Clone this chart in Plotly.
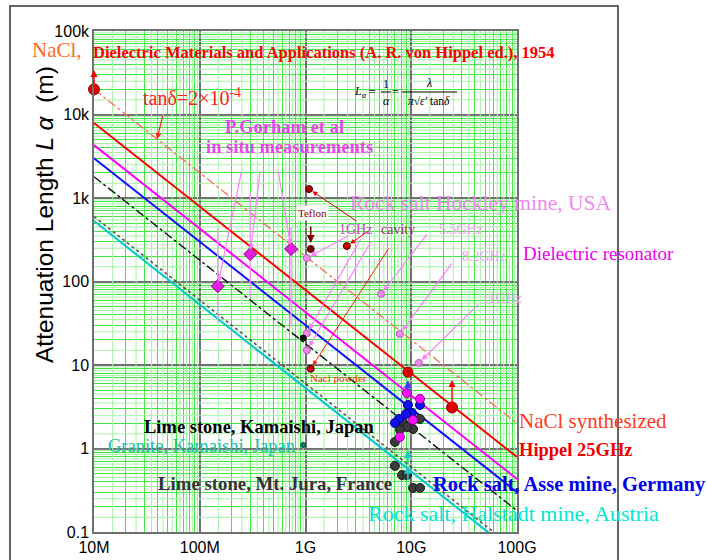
import math
import plotly.graph_objects as go

# ---- axes ----
freq_ticks = [1e7, 1e8, 1e9, 1e10, 1e11]
freq_labels = ["10M", "100M", "1G", "10G", "100G"]
len_ticks = [0.1, 1, 10, 100, 1e3, 1e4, 1e5]
len_labels = ["0.1", "1", "10", "100", "1k", "10k", "100k"]

# ---- attenuation lines L = lambda / (pi sqrt(eps') tan d): values at 10 MHz and 100 GHz ----
line_f = [1e7, 1e11]
hippel_line = [7900, 0.79]
tand_line = [20000, 2.0]
magenta_line = [4300, 0.43]
asse_line = [3000, 0.30]
lime_line = [1800, 0.18]
dotted_line = [600, 0.06]
halstadt_line = [530, 0.053]

# ---- measurements ----
nacl_hippel_f, nacl_hippel_L = [1e7], [20000]
nacl_synth_f, nacl_synth_L = [2.43e10], [3.1]
hippel25_f, hippel25_L = [9.3e9], [8.2]

gorham_f = [1.48e8, 3.0e8, 7.3e8]
gorham_L = [88, 213, 245]
gorham_hi = [437, 1150, 450]
gorham_lo = [32, 64, 28.5]

cavity_f = [1.08e9, 1.12e9, 2.46e9, 1.12e9]
cavity_L = [1280, 245, 266, 9.0]
cavity_col = ["#b00000", "#7a0000", "#d00000", "#d00000"]

hockley_f = [1.03e9, 5.18e9, 7.8e9, 1.18e10, 1.03e9, 1.03e9]
hockley_L = [191, 71, 23.5, 10.6, 24, 15]

lime_kamaishi_f, lime_kamaishi_L = [9.5e8], [21]
granite_f, granite_L = [9.5e8], [1.1]

asse_magenta_f = [9.1e9, 1.21e10, 1.04e10, 7.8e9]
asse_magenta_L = [4.62, 3.92, 2.19, 1.37]
asse_blue_f = [1.21e10, 9.3e9, 1.016e10, 8.9e9, 7.66e9, 7.0e9]
asse_blue_L = [3.32, 3.32, 2.66, 2.59, 2.26, 2.02]
lime_f = [8.36e9, 1.04e10, 9.12e9, 1.21e10, 7.83e9, 7.0e9, 7.0e9, 8.18e9, 9.12e9, 1.04e10, 1.21e10]
lime_L = [2.08, 1.71, 1.81, 2.26, 1.67, 1.20, 0.62, 0.48, 0.48, 0.337, 0.337]

# lower-limit arrows (tip values)
asse_limit_f, asse_limit_L = [9.3e9], [6.6]
halstadt_limit_f, halstadt_limit_L = [9.3e9, 9.3e9], [0.96, 0.62]

# ---- geometry helpers (plot area in pixels) ----
W, H = 707, 560
L_PX, R_PX, T_PX, B_PX = 94, 517, 31, 532


def paper(px, py):
    return (px - L_PX) / (R_PX - L_PX), (B_PX - py) / (B_PX - T_PX)


lg = math.log10
SERIF = "Liberation Serif, Times New Roman, serif"
SANS = "Liberation Sans, Arial, sans-serif"

fig = go.Figure()

# pale secondary grid between the minor lines
pale_x = [(m + 0.5) * 10 ** e for e in range(7, 11) for m in range(1, 10)]
pale_y = [(m + 0.5) * 10 ** e for e in range(-1, 5) for m in range(1, 10)]
gx, gy = [], []
for v in pale_x:
    gx += [v, v, None]
    gy += [0.1, 1e5, None]
for v in pale_y:
    gx += [1e7, 1e11, None]
    gy += [v, v, None]
fig.add_trace(go.Scatter(x=gx, y=gy, mode="lines", line=dict(color="#a8f0a8", width=1),
                         hoverinfo="skip", showlegend=False))


def add_line(vals, color, width, dash="solid"):
    fig.add_trace(go.Scatter(x=line_f, y=vals, mode="lines",
                             line=dict(color=color, width=width, dash=dash),
                             hoverinfo="skip", showlegend=False))


add_line(tand_line, "#ff6a5a", 1.3, "dashdot")
add_line(dotted_line, "#555555", 1.6, "dot")
add_line(halstadt_line, "#00c8d0", 2)
add_line(lime_line, "#111111", 1.4, "dashdot")
add_line(asse_line, "#1010ff", 2)
add_line(magenta_line, "#ff00ff", 2)
add_line(hippel_line, "#ff0000", 2)


def add_pts(x, y, color, size, line_color, symbol="circle", clip=True, err=None):
    fig.add_trace(go.Scatter(x=x, y=y, mode="markers", cliponaxis=clip,
                             marker=dict(color=color, size=size, symbol=symbol,
                                         line=dict(color=line_color, width=1)),
                             error_y=err, hoverinfo="skip", showlegend=False))


gor_err = dict(type="data", symmetric=False,
               array=[h - v for h, v in zip(gorham_hi, gorham_L)],
               arrayminus=[v - l for v, l in zip(gorham_L, gorham_lo)],
               color="#ff90ff", thickness=1.4, width=0)
add_pts(gorham_f, gorham_L, "#e020e0", 10, "#900090", "diamond", err=gor_err)
add_pts(hockley_f, hockley_L, "#ee88ee", 7, "#b060b0")
add_pts(lime_kamaishi_f, lime_kamaishi_L, "#111111", 6, "#000000")
add_pts(granite_f, granite_L, "#108070", 5, "#004040")
add_pts(lime_f, lime_L, "#3a3a3a", 9, "#1a1a1a")
add_pts(asse_blue_f, asse_blue_L, "#1010f0", 9, "#000080")
add_pts(asse_magenta_f, asse_magenta_L, "#ff10ff", 9, "#900090")
fig.add_trace(go.Scatter(x=cavity_f, y=cavity_L, mode="markers",
                         marker=dict(color=cavity_col, size=7, line=dict(color="#400000", width=1)),
                         hoverinfo="skip", showlegend=False))
add_pts(hippel25_f, hippel25_L, "#e00000", 10, "#900000")
add_pts(nacl_synth_f, nacl_synth_L, "#e00000", 11, "#900000")
add_pts(nacl_hippel_f, nacl_hippel_L, "#e00000", 11, "#900000", clip=False)

ann = []


def arrow(f, Lv, ax, ay, color, width=1.2, head=2, standoff=4, size=1.0):
    ann.append(dict(x=lg(f), y=lg(Lv), xref="x", yref="y", ax=ax, ay=ay,
                    text="", showarrow=True, arrowcolor=color, arrowwidth=width,
                    arrowhead=head, arrowsize=size, standoff=standoff))


# in situ (Gorham) pointers
arrow(gorham_f[0], gorham_L[0], 24, -116, "#ff80ff")
arrow(gorham_f[1], gorham_L[1], 10, -84, "#ff80ff")
arrow(gorham_f[2], gorham_L[2], -13, -79, "#ff80ff")
# cavity / resonator pointers
arrow(hockley_f[0], hockley_L[0], 43, -23, "#ff80ff")
arrow(hockley_f[4], hockley_L[4], 55, -96, "#ff80ff")
arrow(hockley_f[5], hockley_L[5], 65, -110, "#ff80ff")
arrow(hockley_f[1], hockley_L[1], 47, -61, "#ff80ff")
arrow(hockley_f[2], hockley_L[2], 53, -72, "#ff80ff")
arrow(hockley_f[3], hockley_L[3], 61, -60, "#ff80ff")
arrow(cavity_f[0], cavity_L[0], 49, 33, "#e00000", 1.0)
arrow(cavity_f[2], cavity_L[2], 23, -16, "#ff0000", 1.0)
arrow(cavity_f[1], cavity_L[1], 0, -24, "#800000", 1.6, standoff=6)
arrow(cavity_f[3], cavity_L[3], 79, -122, "#ff2000", 1.0)
# tan d pointer onto the dashed line
arrow(3.95e7, tand_line[0] * 1e7 / 3.95e7, 6, -25, "#ff2020", 1.2, standoff=0)
# lower limits
arrow(nacl_hippel_f[0], 34000, 0, 19, "#ff0000", 1.4, standoff=0)
arrow(nacl_synth_f[0], 6.6, 0, 27, "#ff0000", 1.4, standoff=0)
arrow(asse_limit_f[0], asse_limit_L[0], 0, 13, "#4040ff", 1.6, standoff=0)
for v in halstadt_limit_L:
    arrow(halstadt_limit_f[0], v, 0, 16, "#20c8c8", 1.6, standoff=0)


def label(text, px, py, color, size, bold=False, anchor="left", italic=False, bg=None):
    x, y = paper(px, py)
    t = f"<b>{text}</b>" if bold else text
    if italic:
        t = f"<i>{t}</i>"
    d = dict(x=x, y=y, xref="paper", yref="paper", text=t, showarrow=False,
             xanchor=anchor, yanchor="middle", font=dict(family=SERIF, size=size, color=color))
    if bg:
        d["bgcolor"] = bg
    ann.append(d)


label("NaCl,", 57, 50, "#ff6a1a", 21, anchor="center")
label("Dielectric Materials and Applications (A. R. von Hippel ed.), 1954", 91, 52, "#ff0000", 16.5, bold=True)
label("tanδ=2×10<sup>-4</sup>", 141, 97, "#ff2020", 20)
label("P.Gorham et al", 284, 127, "#ee44ee", 18.5, bold=True, anchor="center")
label("in situ measurements", 289, 147, "#ee44ee", 18.5, bold=True, anchor="center")
label("Rock salt Hockley mine, USA", 348, 203, "#f088f0", 21.5)
label("Teflon", 296, 213, "#800000", 11, bg="white")
label("1GHz", 337, 229, "#c04cc0", 14)
label("cavity", 379, 229, "#a03078", 14)
label("5.5GHz", 437, 229, "#f0a0f0", 14)
label("8.2GHz", 460, 256, "#f0a0f0", 14)
label("11GHz", 480, 298, "#f0a0f0", 14)
label("Dielectric resonator", 521, 253, "#ee00ee", 19)
label("Nacl powder", 308, 378, "#ff3300", 11)
label("NaCl synthesized", 517, 421, "#ff3a1a", 21)
label("Hippel 25GHz", 517, 450, "#ee0000", 18.5, bold=True)
label("Rock salt, Asse mine, Germany", 431, 484, "#0000ee", 20.5, bold=True)
label("Rock salt, Halstadt mine, Austria", 366, 513, "#00e8d0", 22)
label("Lime stone, Kamaishi, Japan", 142, 427, "#000000", 18.5, bold=True)
label("Granite, Kamaishi, Japan", 106, 446, "#20c0a8", 18.5)
label("Lime stone, Mt. Jura, France", 156, 483, "#333333", 18.8, bold=True)

# formula
label("L<sub>α</sub>", 352, 92, "#000000", 12, italic=True)
label("=", 372, 92, "#000000", 12, anchor="center")
label("1", 386, 84, "#000000", 12, anchor="center")
label("α", 386, 101, "#000000", 12, anchor="center", italic=True)
label("=", 395, 92, "#000000", 12, anchor="center")
label("λ", 429, 83, "#000000", 12, anchor="center", italic=True)
label("<i>π</i>√<i>ε'</i> tan<i>δ</i>", 429, 101, "#000000", 11.5, anchor="center")

# axis title
tx, ty = paper(44, 215)
ann.append(dict(x=tx, y=ty, xref="paper", yref="paper", showarrow=False, textangle=-90,
                text="Attenuation Length <i>L α</i>  (m)", xanchor="center", yanchor="middle",
                font=dict(family=SANS, size=24.5, color="#000000")))

shapes = []
x0, y0 = paper(350, 108)
x1, y1 = paper(462, 73)
shapes.append(dict(type="rect", xref="paper", yref="paper", x0=x0, y0=y0, x1=x1, y1=y1,
                   fillcolor="white", line=dict(width=0), layer="below"))
for a, b in [(381, 391), (402, 457)]:
    u0, v = paper(a, 92)
    u1, _ = paper(b, 92)
    shapes.append(dict(type="line", xref="paper", yref="paper", x0=u0, x1=u1, y0=v, y1=v,
                       line=dict(color="black", width=1)))
fx0, fy0 = paper(10, 566)
fx1, fy1 = paper(618, 6)
shapes.append(dict(type="rect", xref="paper", yref="paper", x0=fx0, y0=fy0, x1=fx1, y1=fy1,
                   line=dict(color="#333333", width=1.5), fillcolor="rgba(0,0,0,0)"))

minor_x = [m * 10 ** e for e in range(7, 11) for m in range(2, 10)]
minor_y = [m * 10 ** e for e in range(-1, 5) for m in range(2, 10)]

axis_common = dict(type="log", showgrid=True, gridcolor="#707070", gridwidth=1.5,
                   showline=True, mirror=True, linecolor="#707070", linewidth=1.5, ticks="",
                   tickfont=dict(family=SANS, size=16, color="black"), zeroline=False,
                   automargin=False)

fig.update_layout(
    width=W, height=H,
    margin=dict(l=L_PX, r=W - R_PX, t=T_PX, b=H - B_PX, pad=0, autoexpand=False),
    paper_bgcolor="white", plot_bgcolor="white",
    annotations=ann, shapes=shapes, showlegend=False,
    xaxis=dict(range=[7, 11], tickvals=freq_ticks, ticktext=freq_labels,
               minor=dict(tickvals=minor_x, showgrid=True, gridcolor="#3ee83e", gridwidth=1, ticks=""),
               **axis_common),
    yaxis=dict(range=[-1, 5], tickvals=len_ticks, ticktext=len_labels,
               minor=dict(tickvals=minor_y, showgrid=True, gridcolor="#3ee83e", gridwidth=1, ticks=""),
               **axis_common),
)

fig.write_html("out.html")
